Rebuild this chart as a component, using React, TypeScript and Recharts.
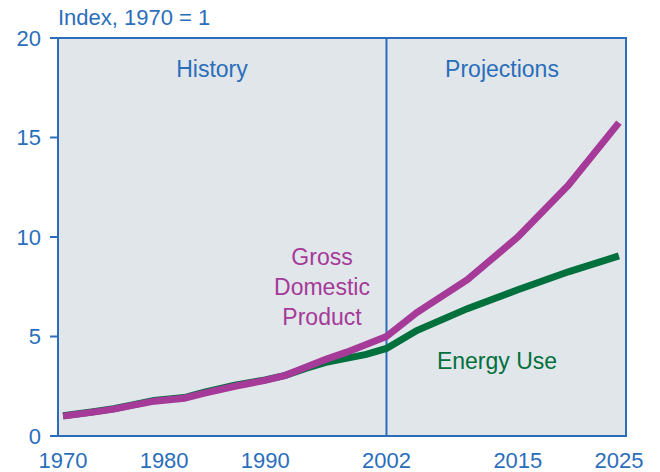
import React from 'react';
import {
    LineChart, Line, XAxis, YAxis, ReferenceArea, ReferenceLine
} from 'recharts';

const years = [1970, 1973, 1975, 1977, 1979, 1982, 1984, 1987, 1990, 1992, 1994, 1996, 1998, 2000, 2002, 2005, 2010, 2015, 2020, 2025];
const gdp = [1.0, 1.2, 1.35, 1.55, 1.75, 1.9, 2.15, 2.5, 2.8, 3.05, 3.45, 3.85, 4.2, 4.6, 5.0, 6.2, 7.85, 10.0, 12.6, 15.75];
const energyUse = [1.02, 1.22, 1.37, 1.58, 1.78, 1.93, 2.2, 2.55, 2.82, 3.05, 3.4, 3.7, 3.9, 4.1, 4.4, 5.3, 6.4, 7.35, 8.25, 9.05];

const xTicks = [1970, 1980, 1990, 2002, 2015, 2025];
const yTicks = [0, 5, 10, 15, 20];

const data = years.map((year, i) => ({ year, gdp: gdp[i], energy: energyUse[i] }));

const blue = '#2a6ebb';
const purple = '#a53a98';
const green = '#00703c';
const panelBg = '#e1e6ea';
const font = 'Liberation Sans, Arial, Helvetica, sans-serif';

const note = (text: string, left: number, top: number, color: string, width = 160) => (
    <div style={{
        position: 'absolute', left: left - width / 2, top, width, textAlign: 'center',
        fontFamily: font, fontSize: 23, lineHeight: '30px', color
    }}>{text}</div>
);

export default function App() {
    return (
        <div style={{ position: 'absolute', left: 0, top: 0, width: 660, height: 472, background: '#fff' }}>
            <LineChart width={660} height={472} data={data} margin={{ top: 38, right: 34, left: 0, bottom: 0 }}>
                <ReferenceArea x1={1969.5} x2={2025.7} y1={0} y2={20} fill={panelBg} fillOpacity={1} stroke={blue} strokeWidth={2} ifOverflow="extendDomain" />
                <ReferenceLine x={2002} stroke={blue} strokeWidth={2} />
                <XAxis
                    dataKey="year"
                    type="number"
                    domain={[1969.5, 2025.7]}
                    allowDataOverflow
                    ticks={xTicks}
                    height={36}
                    axisLine={{ stroke: blue, strokeWidth: 2 }}
                    tickLine={false}
                    tickSize={8}
                    tickMargin={8}
                    tick={{ fill: blue, fontSize: 22, fontFamily: font }}
                />
                <YAxis
                    type="number"
                    domain={[0, 20]}
                    ticks={yTicks}
                    width={58}
                    axisLine={{ stroke: blue, strokeWidth: 2 }}
                    tickLine={{ stroke: blue, strokeWidth: 2 }}
                    tickSize={8}
                    tickMargin={9}
                    tick={{ fill: blue, fontSize: 22, fontFamily: font }}
                />
                <Line type="linear" dataKey="energy" stroke={green} strokeWidth={7} dot={false} isAnimationActive={false} />
                <Line type="linear" dataKey="gdp" stroke={purple} strokeWidth={7} dot={false} isAnimationActive={false} />
            </LineChart>
            <div style={{
                position: 'absolute', left: 58, top: 6, fontFamily: font, fontSize: 22,
                lineHeight: '24px', color: blue, whiteSpace: 'nowrap'
            }}>Index, 1970 = 1</div>
            {note('History', 212, 54, blue)}
            {note('Projections', 502, 54, blue)}
            <div style={{
                position: 'absolute', left: 242, top: 242, width: 160, textAlign: 'center',
                fontFamily: font, fontSize: 23, lineHeight: '30px', color: purple
            }}>Gross<br />Domestic<br />Product</div>
            {note('Energy Use', 497, 346, green)}
        </div>
    );
}
